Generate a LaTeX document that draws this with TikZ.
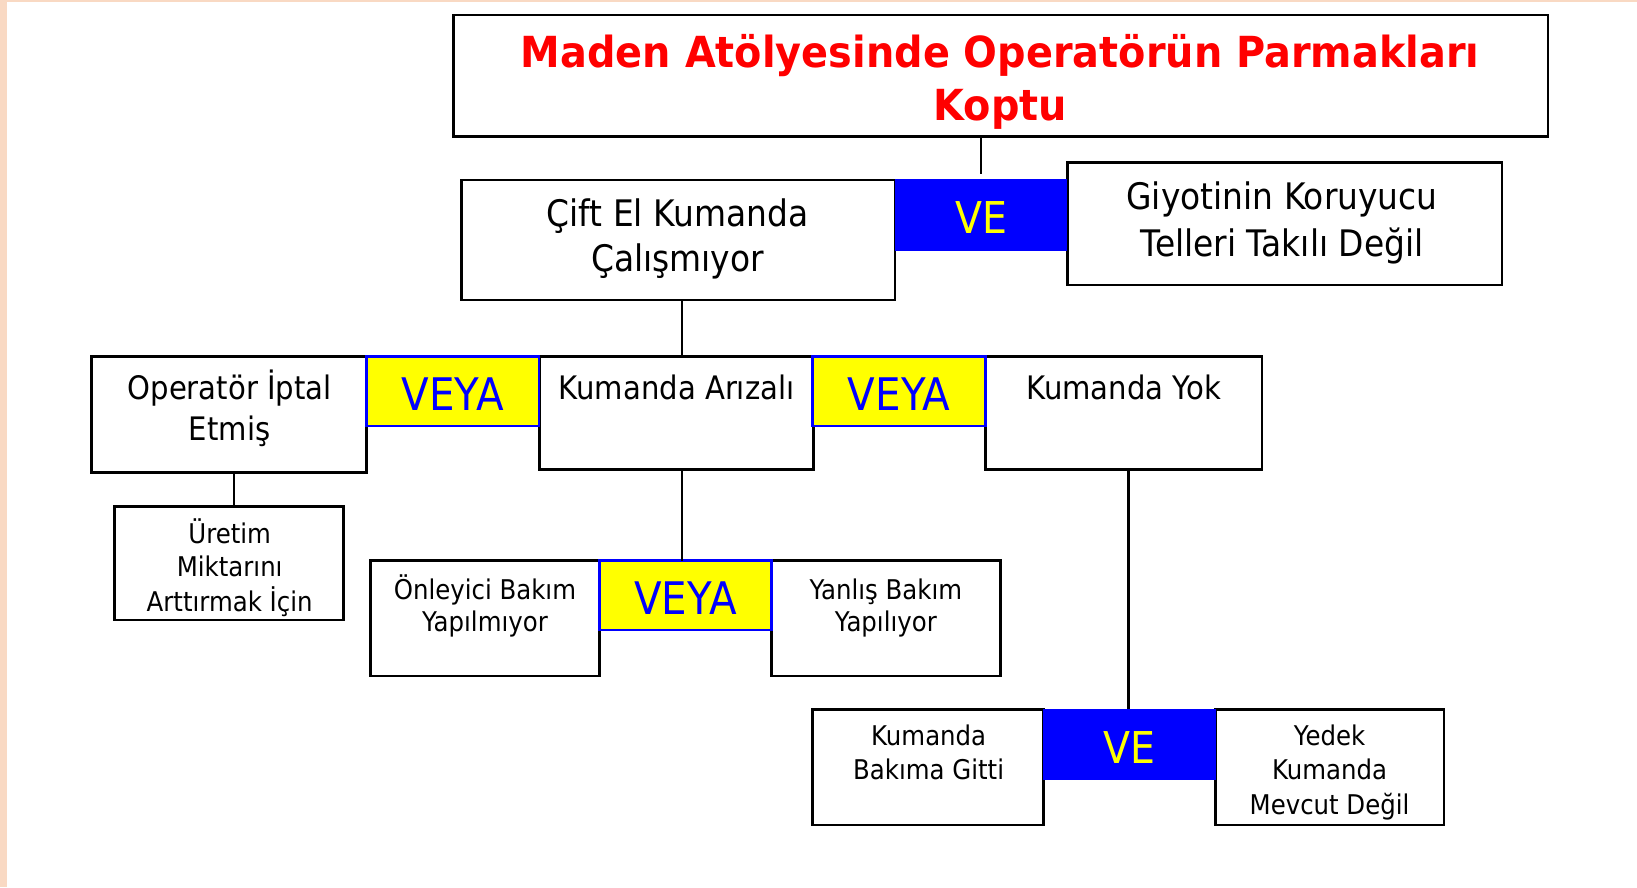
\documentclass[tikz,border=0pt]{standalone}
\usepackage{fontspec}
\setmainfont{DejaVu Sans}[FakeStretch=0.9]
\newfontfamily\titlefont{DejaVu Sans}[FakeStretch=0.93]
\definecolor{peach}{RGB}{249,217,195}
\definecolor{gblue}{RGB}{0,0,255}
\definecolor{gyellow}{RGB}{255,255,0}
\definecolor{tred}{RGB}{255,0,0}
\begin{document}
\begin{tikzpicture}[x=1pt,y=-1pt,
  box/.style={draw=black, line width=2.7pt, fill=white, anchor=north west, inner sep=0pt, outer sep=0pt},
  andgate/.style={fill=gblue, draw=none, anchor=north west, inner sep=0pt, outer sep=0pt,
    text=gyellow, font=\fontsize{42}{42}\selectfont, text height=36pt, text depth=0pt},
  orgate/.style={fill=gyellow, draw=gblue, line width=2.3pt, anchor=north west, inner sep=0pt, outer sep=0pt,
    text=gblue, font=\fontsize{43}{43}\selectfont, text height=36pt, text depth=0pt},
  conn/.style={line width=2.1pt, draw=black},
  ttl/.style={anchor=base, inner sep=0pt, text=tred, font=\titlefont\bfseries\fontsize{41}{41}\selectfont},
  tlg/.style={anchor=base, inner sep=0pt, font=\fontsize{35}{35}\selectfont},
  tmd/.style={anchor=base, inner sep=0pt, font=\fontsize{31}{31}\selectfont},
  tsm/.style={anchor=base, inner sep=0pt, font=\fontsize{26}{26}\selectfont}
]
\useasboundingbox (0,0) rectangle (1568,850);
\fill[white] (0,0) rectangle (1568,850);
\fill[peach] (0,0) rectangle (7,850);
\fill[peach] (0,0) rectangle (1568,1.5);

% coordinates for vertical connector lines
\coordinate (xa) at (653,0);
\coordinate (xb) at (224,0);
\coordinate (xc) at (1081,0);

% boxes
\node[box, minimum width=1048, minimum height=116.6] (top) at (434.7,14.4) {};
\node[box, minimum width=415.3, minimum height=115] (cift) at (442,172.4) {};
\node[box, minimum width=416.3, minimum height=117.2] (giy) at (1022.4,155.8) {};
\node[box, minimum width=263.8, minimum height=111.2] (op) at (87.4,341.6) {};
\node[box, minimum width=262.9, minimum height=107.9] (arz) at (516.5,341.6) {};
\node[box, minimum width=265, minimum height=107.9] (yok) at (943.8,341.6) {};
\node[box, minimum width=219.4, minimum height=108.6] (ur) at (109.9,485.3) {};
\node[box, minimum width=219.1, minimum height=110.5] (onl) at (355.2,537) {};
\node[box, minimum width=219.5, minimum height=110.5] (yan) at (738.8,537) {};
\node[box, minimum width=220.9, minimum height=110.8] (bak) at (778.4,679.4) {};
\node[box, minimum width=218.5, minimum height=110.8] (yed) at (1164.6,679.4) {};

% gates
\node[andgate, minimum width=165, minimum height=68.5] (ve1) at (857.3,171.5) {VE};
\node[orgate, minimum width=165.3, minimum height=66.4] (veya1) at (351.2,341.6) {VEYA};
\node[orgate, minimum width=165.4, minimum height=66.4] (veya2) at (778.4,341.6) {VEYA};
\node[orgate, minimum width=164.5, minimum height=66.4] (veya3) at (574.3,537) {VEYA};
\node[andgate, minimum width=165.3, minimum height=67.7] (ve2) at (999.3,679.4) {VE};

% connectors
\draw[conn, shorten >=5pt] (top.south -| ve1.north) -- (ve1.north);
\draw[conn] (cift.south -| xa) -- (arz.north -| xa);
\draw[conn] (arz.south -| xa) -- (veya3.north -| xa);
\draw[conn] (op.south -| xb) -- (ur.north -| xb);
\draw[conn] (yok.south -| xc) -- (ve2.north -| xc);

% texts
\node[ttl] (t1) at (958,65) {Maden Atölyesinde Operatörün Parmakları};
\node[ttl] (t2) at (958,115) {Koptu};
\node[tlg] (c1) at (649,217) {Çift El Kumanda};
\node[tlg] (c2) at (649,260) {Çalışmıyor};
\node[tlg] (g1) at (1228,201) {Giyotinin Koruyucu};
\node[tlg] (g2) at (1228,246) {Telleri Takılı Değil};
\node[tmd] (o1) at (220,383) {Operatör İptal};
\node[tmd] (o2) at (220,421.5) {Etmiş};
\node[tmd] (a1) at (648,383) {Kumanda Arızalı};
\node[tmd] (y1) at (1076.5,383) {Kumanda Yok};
\node[tsm] (u1) at (220,520.4) {Üretim};
\node[tsm] (u2) at (220,552.4) {Miktarını};
\node[tsm] (u3) at (220,586) {Arttırmak İçin};
\node[tsm] (n1) at (464.5,574) {Önleyici Bakım};
\node[tsm] (n2) at (464.5,605) {Yapılmıyor};
\node[tsm] (l1) at (848.5,574) {Yanlış Bakım};
\node[tsm] (l2) at (848.5,605) {Yapılıyor};
\node[tsm] (b1) at (889.5,713.6) {Kumanda};
\node[tsm] (b2) at (889.5,746.5) {Bakıma Gitti};
\node[tsm] (e1) at (1273.5,713.6) {Yedek};
\node[tsm] (e2) at (1273.5,746.5) {Kumanda};
\node[tsm] (e3) at (1273.5,779.7) {Mevcut Değil};
\end{tikzpicture}
\end{document}
